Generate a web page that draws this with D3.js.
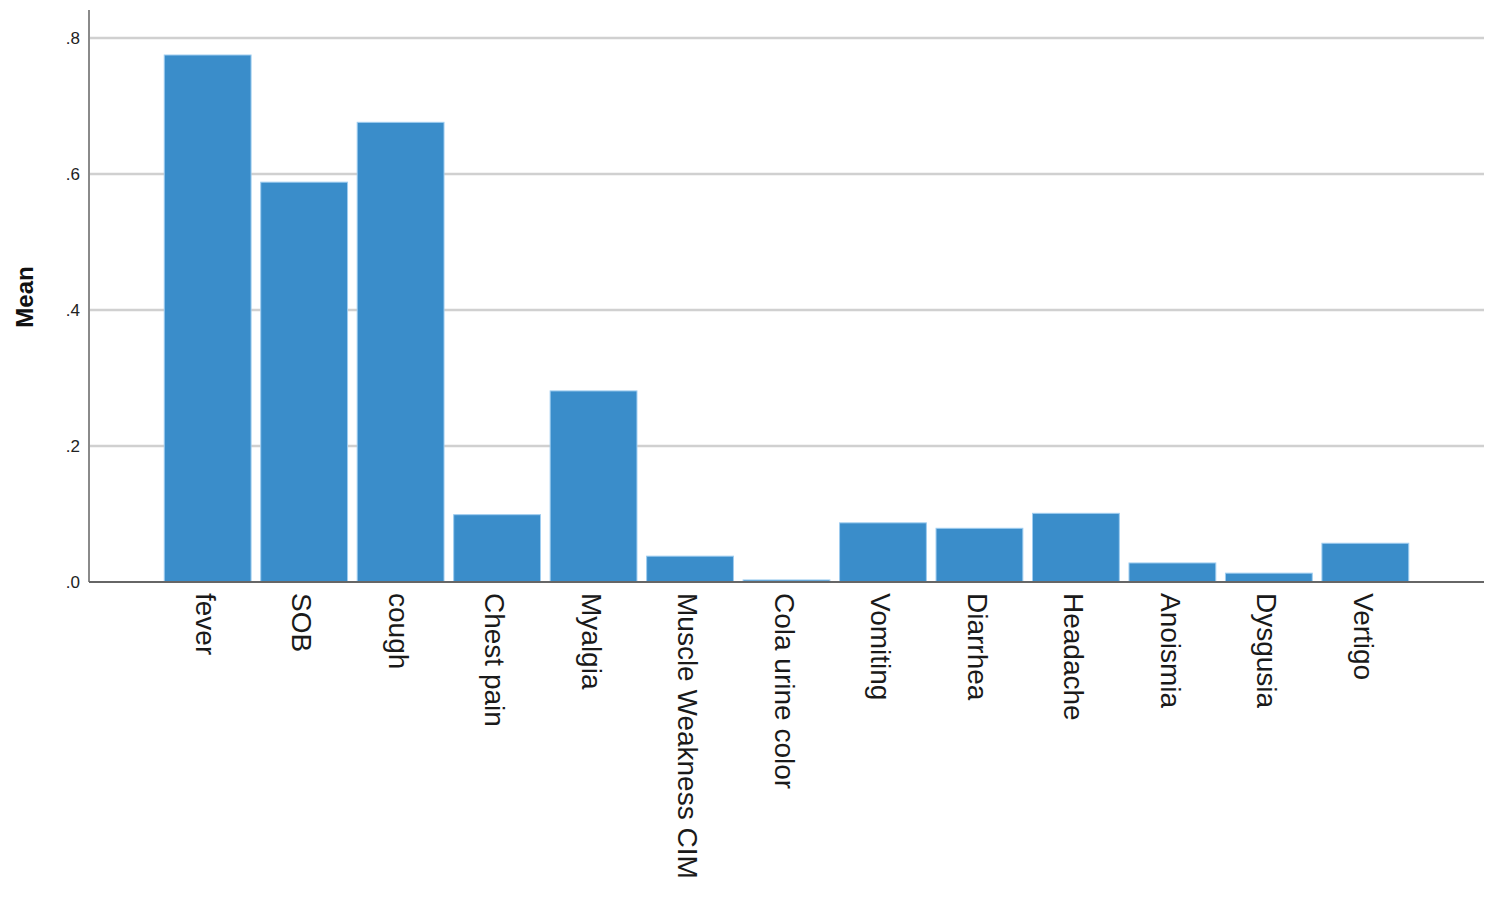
<!DOCTYPE html>
<html>
<head>
<meta charset="utf-8">
<script src="https://cdn.jsdelivr.net/npm/d3@7"></script>
<style>
  body { margin: 0; background: #fff; }
  svg text { font-family: "Liberation Sans", Arial, sans-serif; }
</style>
</head>
<body>
<div id="chart"></div>
<script>
var symptoms = ['fever', 'SOB', 'cough', 'Chest pain', 'Myalgia', 'Muscle Weakness CIM', 'Cola urine color',
  'Vomiting', 'Diarrhea', 'Headache', 'Anoismia', 'Dysgusia', 'Vertigo']
var means = [0.775, 0.588, 0.676, 0.099, 0.281, 0.038, 0.003, 0.087, 0.079, 0.101, 0.028, 0.013, 0.057]
var yTicks = [0, 0.2, 0.4, 0.6, 0.8]
var yTickLabels = ['.0', '.2', '.4', '.6', '.8']

var width = 1500, height = 898
var margin = { top: 10, left: 89, right: 16, bottom: 316 }

var data = symptoms.map(function(s, i) { return { name: s, value: means[i] } })

var svg = d3.select('#chart')
  .append('svg')
  .attr('width', width)
  .attr('height', height)

var xScale = d3.scaleBand()
  .domain(symptoms)
  .range([margin.left, width - margin.right])
  .paddingInner(0.1)
  .paddingOuter(0.78)

var yScale = d3.scaleLinear()
  .domain([0, 0.8])
  .range([height - margin.bottom, 38])

// gridlines
svg.append('g')
  .selectAll('line')
  .data(yTicks.slice(1))
  .enter()
  .append('line')
  .attr('x1', margin.left)
  .attr('x2', width - margin.right)
  .attr('y1', d => yScale(d))
  .attr('y2', d => yScale(d))
  .attr('stroke', '#d0d0d0')
  .attr('stroke-width', 2.5)

// bars
svg.append('g')
  .selectAll('rect')
  .data(data)
  .enter()
  .append('rect')
  .attr('x', d => xScale(d.name))
  .attr('width', xScale.bandwidth())
  .attr('y', d => yScale(d.value))
  .attr('height', d => yScale(0) - yScale(d.value))
  .attr('fill', '#3a8dca')
  .attr('stroke', '#9fcdf0')
  .attr('stroke-width', 1)

// y axis
var yAxis = svg.append('g')
  .attr('transform', 'translate(' + margin.left + ',0)')
  .call(d3.axisLeft(yScale).tickValues(yTicks).tickFormat((d, i) => yTickLabels[i]).tickSize(0).tickPadding(9))
yAxis.select('.domain').remove()
yAxis.selectAll('text')
  .style('font-size', '17px')
  .attr('fill', '#222')

svg.append('line')
  .attr('x1', margin.left).attr('x2', margin.left)
  .attr('y1', margin.top).attr('y2', yScale(0))
  .attr('stroke', '#8a8a8a')
  .attr('stroke-width', 2)

// x axis
svg.append('line')
  .attr('x1', margin.left).attr('x2', width - margin.right)
  .attr('y1', yScale(0)).attr('y2', yScale(0))
  .attr('stroke', '#666')
  .attr('stroke-width', 2)

svg.append('g')
  .selectAll('text')
  .data(symptoms)
  .enter()
  .append('text')
  .attr('transform', d => 'translate(' + (xScale(d) + xScale.bandwidth() / 2 - 2) + ',' + (yScale(0) + 11) + ') rotate(90)')
  .attr('dy', '0.35em')
  .attr('text-anchor', 'start')
  .style('font-size', '28px')
  .attr('fill', '#1a1a1a')
  .text(d => d)

// y title
svg.append('text')
  .attr('transform', 'translate(33,' + 297 + ') rotate(-90)')
  .attr('text-anchor', 'middle')
  .style('font-size', '24px')
  .style('font-weight', 'bold')
  .attr('fill', '#111')
  .text('Mean')
</script>
</body>
</html>
